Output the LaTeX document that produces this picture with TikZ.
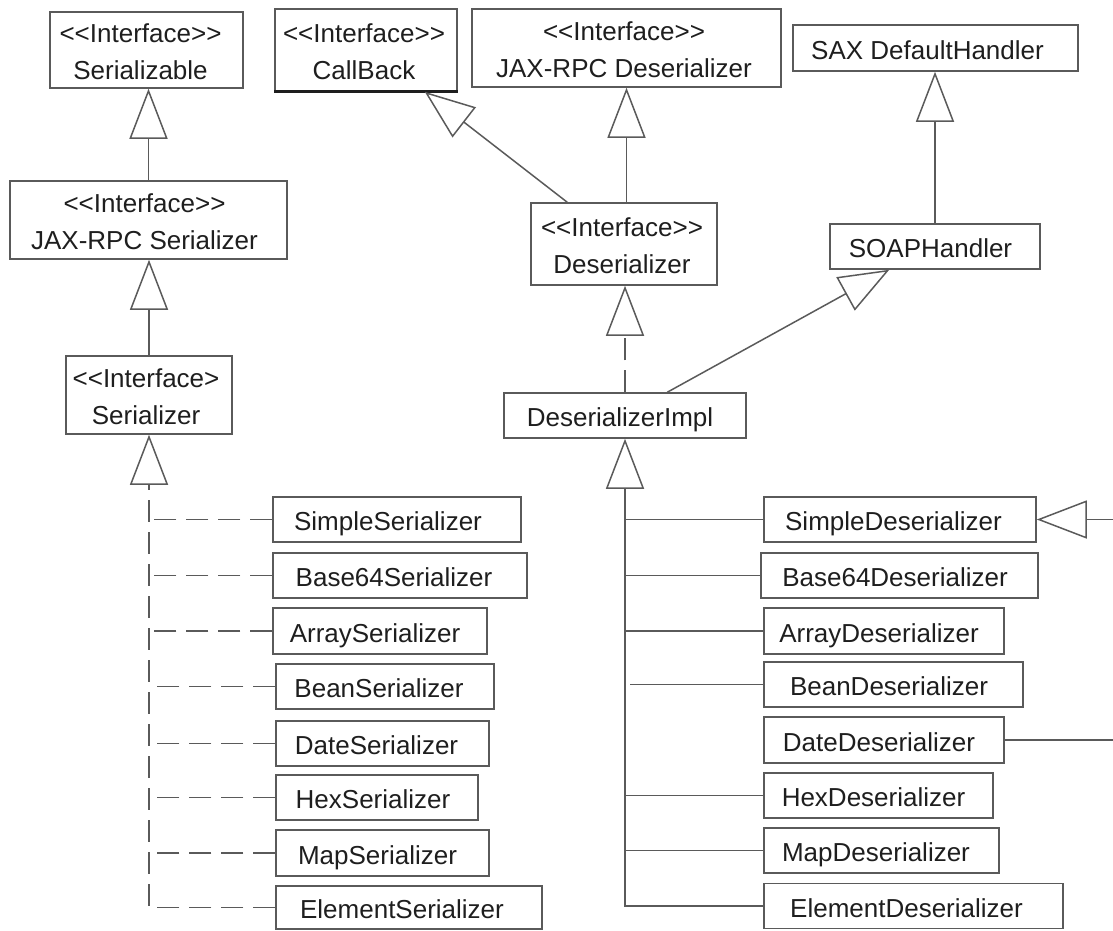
\documentclass[tikz,border=0pt]{standalone}
\usepackage{fontspec}
\setmainfont{Liberation Sans}[Ligatures=TeXOff]
\usetikzlibrary{arrows.meta}
\definecolor{edgecol}{HTML}{5A5A5A}
\definecolor{inkcol}{HTML}{1E1E1E}
% class label: centred lines, moved left by half the optional kern and a little down
\newcommand\umltext[2][-10pt]{\kern#1\raisebox{-4pt}[\height][\depth]{\begin{tabular}{@{}c@{}}#2\end{tabular}}}

\begin{document}
\begin{tikzpicture}[x=1pt,y=-1pt,
  cls/.style={draw=edgecol, line width=1.5pt, inner sep=0pt, text=inkcol,
    font=\fontsize{26}{37}\selectfont},
  link/.style={draw=edgecol, line width=1.5pt},
  gen/.style={link, -{Triangle[open,length=50pt,width=38pt]}},
  realize/.style={gen, dash pattern=on 22pt off 10pt},
  dashlink/.style={link, dash pattern=on 22pt off 10pt}]

\useasboundingbox (0,0) rectangle (1113,930);
\coordinate (edgeR) at (1113,0);

% ---- interfaces and base classes ----
\node[cls, minimum width=193pt, minimum height=76pt] (sable) at (146.5,50)
  {\umltext[-12pt]{<<Interface>>\\Serializable}};
\node[cls, minimum width=182pt, minimum height=82pt] (cb) at (366,50)
  {\umltext[-4pt]{<<Interface>>\\CallBack}};
\node[cls, minimum width=309pt, minimum height=78pt] (jdes) at (626.5,48)
  {\umltext[-5pt]{<<Interface>>\\JAX-RPC Deserializer}};
\node[cls, minimum width=285pt, minimum height=46pt] (sax) at (935.5,48)
  {\umltext[-16pt]{SAX DefaultHandler}};
\node[cls, minimum width=277pt, minimum height=78pt] (jser) at (148.5,220)
  {\umltext[-8pt]{<<Interface>>\\JAX-RPC Serializer}};
\node[cls, minimum width=186pt, minimum height=82pt] (des) at (624,244)
  {\umltext[-4pt]{<<Interface>>\\Deserializer}};
\node[cls, minimum width=210pt, minimum height=45pt] (soap) at (935,246.5)
  {\umltext[-9pt]{SOAPHandler}};
\node[cls, minimum width=166pt, minimum height=78pt] (ser) at (149,395)
  {\umltext[-6pt]{<<Interface>\\Serializer}};
\node[cls, minimum width=242pt, minimum height=45pt] (impl) at (625,415.5)
  {\umltext[-10pt]{DeserializerImpl}};

% heavier lower edge of the CallBack box
\draw[draw=inkcol, line width=2.6pt] (cb.south west) -- (cb.south east);

% ---- serializers ----
\node[cls, minimum width=248pt, minimum height=45pt] (s1) at (397,519.5) {\umltext[-18pt]{SimpleSerializer}};
\node[cls, minimum width=254pt, minimum height=45pt] (s2) at (400,575.5) {\umltext[-12pt]{Base64Serializer}};
\node[cls, minimum width=214pt, minimum height=46pt] (s3) at (380,631) {\umltext[-10pt]{ArraySerializer}};
\node[cls, minimum width=218pt, minimum height=45pt] (s4) at (385,686.5) {\umltext[-12pt]{BeanSerializer}};
\node[cls, minimum width=213pt, minimum height=45pt] (s5) at (382.5,743.5) {\umltext[-12pt]{DateSerializer}};
\node[cls, minimum width=202pt, minimum height=45pt] (s6) at (377,797.5) {\umltext[-8pt]{HexSerializer}};
\node[cls, minimum width=213pt, minimum height=46pt] (s7) at (382.5,853) {\umltext[-10pt]{MapSerializer}};
\node[cls, minimum width=266pt, minimum height=43pt] (s8) at (409,907.5) {\umltext[-14pt]{ElementSerializer}};

% ---- deserializers ----
\node[cls, minimum width=272pt, minimum height=45pt] (d1) at (900,519.5) {\umltext[-13pt]{SimpleDeserializer}};
\node[cls, minimum width=277pt, minimum height=45pt] (d2) at (899.5,575.5) {\umltext[-9pt]{Base64Deserializer}};
\node[cls, minimum width=240pt, minimum height=46pt] (d3) at (884,631) {\umltext[-10pt]{ArrayDeserializer}};
\node[cls, minimum width=259pt, minimum height=45pt] (d4) at (893.5,684.5) {\umltext[-9pt]{BeanDeserializer}};
\node[cls, minimum width=240pt, minimum height=46pt] (d5) at (884,740) {\umltext[-10pt]{DateDeserializer}};
\node[cls, minimum width=229pt, minimum height=45pt] (d6) at (878.5,795.5) {\umltext[-10pt]{HexDeserializer}};
\node[cls, minimum width=235pt, minimum height=45pt] (d7) at (881.5,850.5) {\umltext[-11pt]{MapDeserializer}};
\node[cls, minimum width=299pt, minimum height=45pt] (d8) at (913.5,906) {\umltext[-14pt]{ElementDeserializer}};

% ---- generalizations among the upper classes ----
\draw[gen] (jser.north) -- (jser.north |- sable.south);
\draw[gen] (ser.north) -- (ser.north |- jser.south);
\draw[gen] (jdes.south |- des.north) -- (jdes.south);
\draw[gen] ([xshift=37pt]des.north west) -- ([xshift=-33pt]cb.south east);
\draw[realize] (impl.north) -- (impl.north |- des.south);
\draw[gen] ([xshift=164pt]impl.north west) -- ([xshift=60pt]soap.south west);
\draw[gen] (soap.north) -- (soap.north |- sax.south);

% ---- serializers realize Serializer through a shared dashed trunk ----
\draw[realize] (s8.west) -- (ser.south |- s8.west) -- (ser.south);
\foreach \n in {s1,s2,s3,s4,s5,s6,s7}
  \draw[dashlink] (\n.west) -- (ser.south |- \n.west);

% ---- deserializers extend DeserializerImpl through a solid trunk ----
\draw[gen] (d8.west) -- (impl.south |- d8.west) -- (impl.south);
\foreach \n in {d1,d2,d3,d6,d7}
  \draw[link] (\n.west) -- (impl.south |- \n.west);
\draw[link] (d4.west) -- ([xshift=5pt]impl.south |- d4.west);

% ---- DateDeserializer extends SimpleDeserializer, routed past the right edge ----
\draw[link] (d5.east) -- (d5.east -| edgeR);
\draw[gen] (d1.east -| edgeR) -- (d1.east);

\end{tikzpicture}
\end{document}
